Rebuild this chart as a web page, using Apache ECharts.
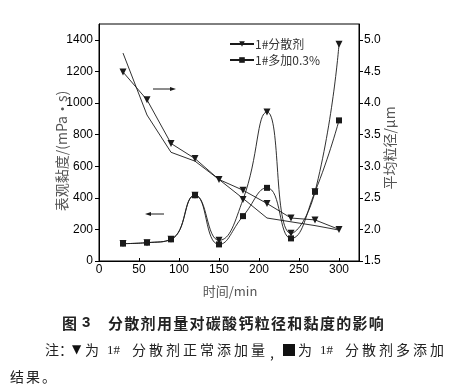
<!DOCTYPE html>
<html>
<head>
<meta charset="utf-8">
<script src="https://cdn.jsdelivr.net/npm/echarts@6/dist/echarts.min.js"></script>
<style>
html,body{margin:0;padding:0;background:#fff;}
#c{width:457px;height:386px;}
</style>
</head>
<body>
<div id="c"></div>
<script>
// ---- data ----
const times = [30, 60, 90, 120, 150, 180, 210, 240, 270, 300];
const viscNormal = [110, 116, 137, 416, 131, 389, 943, 175, 438, 1372];   // 1#分散剂, mPa·s
const viscExtra  = [110, 116, 137, 416, 105, 284, 463, 143, 438, 890];    // 1#多加0.3%, mPa·s
const sizeNormal = [4.49, 4.05, 3.36, 3.12, 2.79, 2.62, 2.41, 2.18, 2.15, 2.00]; // μm
const sizeExtra  = [4.79, 3.81, 3.22, 3.08, 2.79, 2.49, 2.18, 2.12, 2.06, 1.99]; // μm
const xTicks = [0, 50, 100, 150, 200, 250, 300];
const leftTicks = [0, 200, 400, 600, 800, 1000, 1200, 1400];
const rightTicks = [1.5, 2.0, 2.5, 3.0, 3.5, 4.0, 4.5, 5.0];
const seriesNames = ['1#分散剂', '1#多加0.3%'];
const xName = '时间/min';
const leftName = '表观黏度/(mPa·s)';
const rightName = '平均粒径/μm';
const caption = '分散剂用量对碳酸钙粒径和黏度的影响';

const pairs = (xs, ys) => xs.map((x, i) => [x, ys[i]]);
const ink = '#1a1a1a';
const numFont = 'Liberation Sans, Arial, sans-serif';
const cjkFont = '"Noto Sans CJK SC", sans-serif';

function spaced(text, x0, y, step, size, weight) {
  const out = [];
  let x = x0;
  for (const ch of text) {
    out.push({type: 'text', x: x, y: y, style: {text: ch, fontSize: size, fontFamily: cjkFont, fontWeight: weight || 'normal', fill: '#222', align: 'left', verticalAlign: 'middle'}});
    x += step;
  }
  return out;
}

const chart = echarts.init(document.getElementById('c'), null, {renderer: 'canvas'});
const graphics = [
  {type: 'text', x: 62, y: 151, rotation: Math.PI / 2, style: {text: leftName, fontSize: 14, fontFamily: cjkFont, fill: '#555', align: 'center', verticalAlign: 'middle'}},
  {type: 'text', x: 390, y: 148, rotation: Math.PI / 2, style: {text: rightName, fontSize: 14, fontFamily: cjkFont, fill: '#555', align: 'center', verticalAlign: 'middle'}},
  {type: 'text', x: 230, y: 291, style: {text: xName, fontSize: 13, fontFamily: cjkFont, fill: '#555', align: 'center', verticalAlign: 'middle'}},
  // arrows
  {type: 'line', shape: {x1: 153, y1: 89, x2: 172, y2: 89}, style: {stroke: ink, lineWidth: 1}},
  {type: 'polygon', shape: {points: [[176, 89], [170, 87], [170, 91]]}, style: {fill: ink}},
  {type: 'line', shape: {x1: 149, y1: 214, x2: 164, y2: 214}, style: {stroke: ink, lineWidth: 1}},
  {type: 'polygon', shape: {points: [[145, 214], [151, 212], [151, 216]]}, style: {fill: ink}},
  // caption
  ...spaced('图', 62, 323, 16, 15, 'bold'),
  {type: 'text', x: 82, y: 323, style: {text: '3', fontSize: 15, fontFamily: numFont, fontWeight: 'bold', fill: '#222', align: 'left', verticalAlign: 'middle'}},
  ...spaced(caption, 108, 323, 16.3, 15, 'bold'),
  // note line 1
  ...spaced('注：', 45, 350, 14, 14),
  {type: 'text', x: 72, y: 350, style: {text: '▼', fontSize: 12, fontFamily: 'DejaVu Sans', fill: '#111', align: 'left', verticalAlign: 'middle'}},
  ...spaced('为', 85, 350, 16, 14),
  {type: 'text', x: 107, y: 351, style: {text: '1#', fontSize: 13, fontFamily: 'Liberation Serif, serif', fill: '#222', align: 'left', verticalAlign: 'middle'}},
  ...spaced('分散剂正常添加量', 132, 350, 17, 14),
  {type: 'text', x: 270, y: 353, style: {text: ',', fontSize: 14, fontFamily: cjkFont, fill: '#222', align: 'left', verticalAlign: 'middle'}},
  {type: 'rect', shape: {x: 283, y: 344, width: 12, height: 12}, style: {fill: '#111'}},
  ...spaced('为', 298, 350, 16, 14),
  {type: 'text', x: 320, y: 351, style: {text: '1#', fontSize: 13, fontFamily: 'Liberation Serif, serif', fill: '#222', align: 'left', verticalAlign: 'middle'}},
  ...spaced('分散剂多添加', 345, 350, 17, 14),
  ...spaced('结果。', 10, 377, 16, 14)
];

const option = {
  animation: false,
  backgroundColor: '#fff',
  grid: {left: 99, right: 98, top: 24, bottom: 125, show: true, borderColor: '#000', borderWidth: 1, backgroundColor: 'transparent'},
  legend: {
    data: seriesNames,
    orient: 'vertical',
    left: 229, top: 38,
    itemWidth: 24, itemHeight: 7, itemGap: 4,
    textStyle: {fontSize: 12, fontFamily: cjkFont, color: '#333', padding: [0, 0, 0, -4]},
    padding: 0
  },
  xAxis: {
    type: 'value', min: 0, max: 325, interval: 50,
    axisLine: {lineStyle: {color: '#000', width: 1}},
    axisTick: {inside: true, length: 3, lineStyle: {color: '#000'}, customValues: xTicks},
    axisLabel: {color: '#000', fontSize: 12, fontFamily: numFont, margin: 3, customValues: xTicks, formatter: v => String(v)},
    splitLine: {show: false}
  },
  yAxis: [
    {
      type: 'value', min: 0, max: 1500, position: 'left',
      axisLine: {show: true, lineStyle: {color: '#000', width: 1}},
      axisTick: {show: true, inside: false, length: 4, lineStyle: {color: '#000'}, customValues: leftTicks},
      axisLabel: {color: '#000', fontSize: 12, fontFamily: numFont, margin: 6, customValues: leftTicks, formatter: v => String(v)},
      splitLine: {show: false}
    },
    {
      type: 'value', min: 1.5, max: 5.25, position: 'right',
      axisLine: {show: true, lineStyle: {color: '#000', width: 1}},
      axisTick: {show: true, inside: false, length: 4, lineStyle: {color: '#000'}, customValues: rightTicks},
      axisLabel: {color: '#000', fontSize: 12, fontFamily: numFont, margin: 5, customValues: rightTicks, formatter: v => v.toFixed(1)},
      splitLine: {show: false}
    }
  ],
  series: [
    {name: seriesNames[0], type: 'line', yAxisIndex: 0, data: pairs(times, viscNormal), smooth: 0.5,
     symbol: 'triangle', symbolRotate: 180, symbolSize: 7, itemStyle: {color: ink}, lineStyle: {color: ink, width: 0.9}},
    {name: seriesNames[1], type: 'line', yAxisIndex: 0, data: pairs(times, viscExtra), smooth: 0.5,
     symbol: 'rect', symbolSize: 6, itemStyle: {color: ink}, lineStyle: {color: ink, width: 0.9}},
    {name: seriesNames[0], type: 'line', yAxisIndex: 1, data: pairs(times, sizeNormal), smooth: false,
     symbol: 'triangle', symbolRotate: 180, symbolSize: 7, itemStyle: {color: ink}, lineStyle: {color: ink, width: 0.9}},
    {name: seriesNames[1], type: 'line', yAxisIndex: 1, data: pairs(times, sizeExtra), smooth: false,
     symbol: 'none', itemStyle: {color: ink}, lineStyle: {color: ink, width: 0.9}}
  ],
  graphic: graphics
};
chart.setOption(option);
</script>
</body>
</html>
